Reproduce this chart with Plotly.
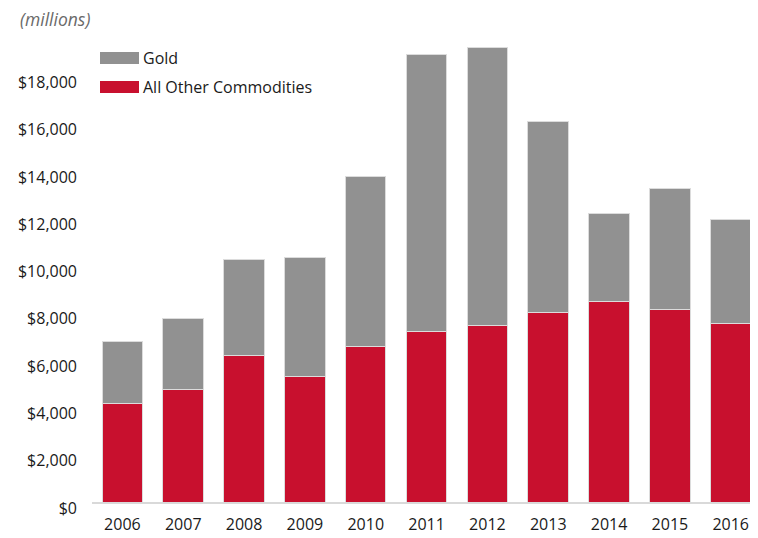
import plotly.graph_objects as go

years = ["2006", "2007", "2008", "2009", "2010", "2011", "2012", "2013", "2014", "2015", "2016"]
other_commodities = [4160, 4750, 6210, 5300, 6590, 7210, 7460, 8010, 8480, 8140, 7550]
gold = [2640, 3020, 4060, 5030, 7190, 11710, 11750, 8070, 3740, 5130, 4410]
series_names = ["Gold", "All Other Commodities"]
y_ticks = [0, 2000, 4000, 6000, 8000, 10000, 12000, 14000, 16000, 18000]
y_tick_labels = ["$0", "$2,000", "$4,000", "$6,000", "$8,000", "$10,000",
                 "$12,000", "$14,000", "$16,000", "$18,000"]

GOLD_COLOR = "#919191"
RED_COLOR = "#c8102e"
FONT = "Open Sans"
TEXT = "#1a1a1a"

# page has an 8px body margin, so the figure is placed at (8, 8)
OFF = 8
W, H = 742, 530
ML, MR, MT, MB = 84, 0, 21, 36
PW, PH = W - ML - MR, H - MT - MB


def px_x(x):  # x in page pixels -> paper fraction
    return (x - OFF - ML) / PW


def px_y(y):  # y in page pixels -> paper fraction
    return (H - MB - (y - OFF)) / PH


fig = go.Figure()
fig.add_trace(go.Bar(x=years, y=other_commodities, name=series_names[1],
                     marker=dict(color=RED_COLOR, line=dict(color="#dcdcdc", width=1)),
                     showlegend=False))
fig.add_trace(go.Bar(x=years, y=gold, name=series_names[0],
                     marker=dict(color=GOLD_COLOR, line=dict(color="#dcdcdc", width=1)),
                     showlegend=False))

shapes = []
annotations = []
legend_rows = [(series_names[0], GOLD_COLOR, 52, 64, 58),
               (series_names[1], RED_COLOR, 81, 93, 87)]
for name, col, y0, y1, yc in legend_rows:
    shapes.append(dict(type="rect", xref="paper", yref="paper",
                       x0=px_x(100), x1=px_x(139), y0=px_y(y1), y1=px_y(y0),
                       fillcolor=col, line=dict(width=0)))
    annotations.append(dict(text=name, xref="paper", yref="paper",
                            x=px_x(141), y=px_y(yc), xanchor="left", yanchor="middle",
                            showarrow=False, font=dict(family=FONT, size=16, color=TEXT)))

annotations.append(dict(text="<i>(millions)</i>", xref="paper", yref="paper",
                        x=px_x(18), y=px_y(19), xanchor="left", yanchor="middle",
                        showarrow=False, font=dict(family=FONT, size=17.5, color="#6a6a6a")))

fig.update_layout(
    width=W, height=H,
    margin=dict(l=ML, r=MR, t=MT, b=MB),
    paper_bgcolor="white", plot_bgcolor="white",
    barmode="stack", bargap=0.334,
    font=dict(family=FONT, size=16, color=TEXT),
    shapes=shapes, annotations=annotations,
    xaxis=dict(type="category", range=[-0.5, 10.317], showgrid=False, automargin=False,
               showline=True, linecolor="#d9d9d9", linewidth=2, ticks="",
               tickfont=dict(family=FONT, size=16, color=TEXT),
               ticklabelstandoff=7),
    yaxis=dict(range=[0, 20000], showgrid=False, showline=False, zeroline=False,
               automargin=False,
               tickvals=y_ticks, ticktext=y_tick_labels, ticks="",
               tickfont=dict(family=FONT, size=16, color=TEXT),
               ticklabelstandoff=14, ticklabelshift=6),
)

fig.write_html("out.html")
